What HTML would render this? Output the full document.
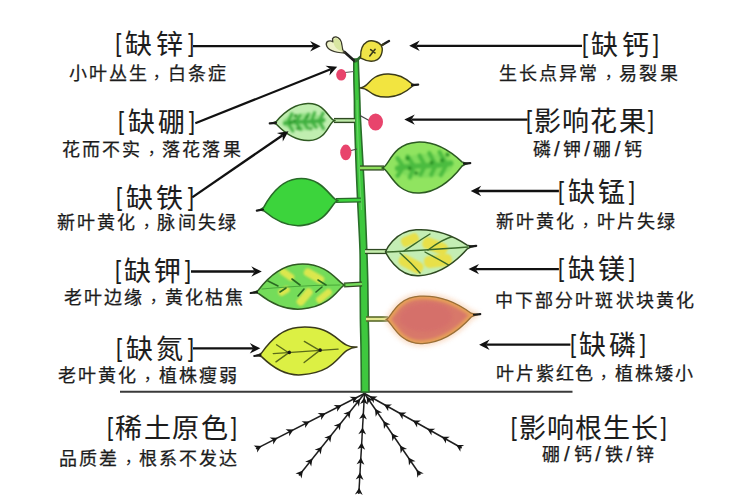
<!DOCTYPE html>
<html lang="zh-CN"><head><meta charset="utf-8"><style>
html,body{margin:0;padding:0;background:#fff;width:750px;height:500px;overflow:hidden}
.t{position:absolute;white-space:nowrap;color:#1c1c1c;font-family:"Liberation Sans",sans-serif;line-height:1.2;-webkit-text-stroke:0.25px #1c1c1c}
.cm{display:inline-block;transform:translate(4px,-1.5px) scale(0.85)}
.sl{font-size:1.15em;line-height:0}
.br{display:inline-block;transform:translateY(-1.8px) scale(0.8,0.96)}
.ti{-webkit-text-stroke:0.1px #1c1c1c}
svg{position:absolute;left:0;top:0}
</style></head><body>
<svg width="750" height="500" viewBox="0 0 750 500">
<line x1="120" y1="391.8" x2="572.5" y2="391.8" stroke="#3a3a3a" stroke-width="2"/><line x1="364.5" y1="393.5" x2="256" y2="448.8" stroke="#1e1e1e" stroke-width="1.5"/><path d="M357.6,397.0 L349.5,396.7 L353.2,399.3 L353.1,403.7 Z" fill="#151515"/><path d="M341.6,405.2 L333.6,404.9 L337.2,407.4 L337.1,411.8 Z" fill="#151515"/><path d="M325.6,413.3 L317.6,413.0 L321.2,415.6 L321.1,420.0 Z" fill="#151515"/><path d="M309.6,421.5 L301.6,421.2 L305.2,423.7 L305.1,428.1 Z" fill="#151515"/><path d="M293.6,429.6 L285.6,429.3 L289.2,431.9 L289.1,436.3 Z" fill="#151515"/><path d="M277.6,437.8 L269.6,437.5 L273.2,440.0 L273.1,444.4 Z" fill="#151515"/><path d="M261.6,445.9 L253.6,445.6 L257.2,448.2 L257.1,452.6 Z" fill="#151515"/><line x1="364.5" y1="393.5" x2="299" y2="475.5" stroke="#1e1e1e" stroke-width="1.5"/><path d="M360.3,398.8 L352.8,401.8 L357.2,402.6 L358.9,406.7 Z" fill="#151515"/><path d="M350.7,410.8 L343.3,413.8 L347.6,414.6 L349.4,418.7 Z" fill="#151515"/><path d="M341.1,422.7 L333.7,425.8 L338.1,426.6 L339.8,430.6 Z" fill="#151515"/><path d="M331.6,434.7 L324.2,437.7 L328.5,438.5 L330.3,442.6 Z" fill="#151515"/><path d="M322.0,446.7 L314.6,449.7 L319.0,450.5 L320.7,454.6 Z" fill="#151515"/><path d="M312.5,458.6 L305.1,461.7 L309.4,462.4 L311.2,466.5 Z" fill="#151515"/><path d="M302.9,470.6 L295.5,473.6 L299.9,474.4 L301.6,478.5 Z" fill="#151515"/><line x1="364.5" y1="393.5" x2="358.8" y2="494" stroke="#1e1e1e" stroke-width="1.5"/><path d="M364.3,397.3 L360.0,404.1 L364.0,402.2 L367.8,404.5 Z" fill="#151515"/><path d="M363.4,412.4 L359.1,419.1 L363.2,417.3 L366.9,419.6 Z" fill="#151515"/><path d="M362.6,427.4 L358.3,434.2 L362.3,432.3 L366.1,434.6 Z" fill="#151515"/><path d="M361.7,442.5 L357.4,449.3 L361.4,447.4 L365.2,449.7 Z" fill="#151515"/><path d="M360.9,457.6 L356.6,464.3 L360.6,462.5 L364.4,464.8 Z" fill="#151515"/><path d="M360.0,472.6 L355.7,479.4 L359.7,477.5 L363.5,479.9 Z" fill="#151515"/><path d="M359.2,487.7 L354.9,494.5 L358.9,492.6 L362.7,494.9 Z" fill="#151515"/><line x1="364.5" y1="393.5" x2="420.2" y2="475" stroke="#1e1e1e" stroke-width="1.5"/><path d="M366.6,396.6 L367.4,404.6 L369.4,400.7 L373.8,400.2 Z" fill="#151515"/><path d="M375.0,408.8 L375.7,416.8 L377.7,412.9 L382.1,412.4 Z" fill="#151515"/><path d="M383.3,421.0 L384.0,429.0 L386.1,425.1 L390.5,424.6 Z" fill="#151515"/><path d="M391.6,433.2 L392.4,441.2 L394.4,437.3 L398.8,436.8 Z" fill="#151515"/><path d="M400.0,445.4 L400.7,453.4 L402.7,449.5 L407.1,449.0 Z" fill="#151515"/><path d="M408.3,457.6 L409.0,465.6 L411.1,461.7 L415.5,461.2 Z" fill="#151515"/><path d="M416.6,469.8 L417.4,477.8 L419.4,473.8 L423.8,473.4 Z" fill="#151515"/><line x1="364.5" y1="393.5" x2="461.7" y2="448" stroke="#1e1e1e" stroke-width="1.5"/><path d="M369.6,396.3 L373.8,403.2 L373.8,398.7 L377.6,396.4 Z" fill="#151515"/><path d="M384.0,404.4 L388.2,411.3 L388.3,406.8 L392.0,404.5 Z" fill="#151515"/><path d="M398.4,412.5 L402.6,419.4 L402.7,414.9 L406.5,412.6 Z" fill="#151515"/><path d="M412.9,420.6 L417.1,427.5 L417.2,423.0 L420.9,420.6 Z" fill="#151515"/><path d="M427.3,428.7 L431.5,435.6 L431.6,431.1 L435.3,428.7 Z" fill="#151515"/><path d="M441.8,436.8 L446.0,443.6 L446.0,439.2 L449.8,436.8 Z" fill="#151515"/><path d="M456.2,444.9 L460.4,451.7 L460.5,447.3 L464.2,444.9 Z" fill="#151515"/><path d="M353.8,59.0 C353.8,62.5 353.8,73.2 353.9,80.0 C354.0,86.8 354.3,93.3 354.4,100.0 C354.5,106.7 354.3,108.7 354.6,120.0 C354.9,131.3 355.7,154.7 356.2,168.0 C356.7,181.3 357.0,186.3 357.6,200.0 C358.2,213.7 359.6,236.2 360.0,250.0 C360.4,263.8 360.1,271.7 360.2,283.0 C360.3,294.3 360.3,307.3 360.4,318.0 C360.5,328.7 360.8,334.7 361.0,347.0 C361.2,359.3 361.3,384.5 361.4,392.0 L369.0,392.0 C369.0,384.5 368.9,359.3 368.8,347.0 C368.7,334.7 368.4,328.7 368.2,318.0 C368.0,307.3 368.0,294.3 367.8,283.0 C367.6,271.7 367.3,263.8 366.8,250.0 C366.3,236.2 365.4,213.7 364.8,200.0 C364.2,186.3 363.9,181.3 363.2,168.0 C362.5,154.7 361.1,131.3 360.5,120.0 C359.9,108.7 360.1,106.7 359.8,100.0 C359.6,93.3 359.3,86.8 359.0,80.0 C358.7,73.2 358.3,62.5 358.2,59.0 Z" fill="#3ec83e" stroke="#2a6e2a" stroke-width="1.6" stroke-linejoin="round"/><path d="M357,100 C357.5,140 359,170 361.5,210" fill="none" stroke="#80e07a" stroke-width="1.2" opacity="0.6"/><path d="M344.5,52 L354.5,61" stroke="#1e1e1e" stroke-width="2.8" stroke-linecap="round"/><path d="M356,61 L361.5,56" stroke="#2c6a2c" stroke-width="2.8" stroke-linecap="round"/><path d="M383,44.5 L389,41" stroke="#1e1e1e" stroke-width="2.4" stroke-linecap="round"/><path d="M345,72.5 L354,71.5" stroke="#555" stroke-width="1.1"/><path d="M360,115.5 L370,121" stroke="#444" stroke-width="1.2"/><path d="M349,151 L357,149" stroke="#444" stroke-width="1.2"/><path d="M355,120.5 L334,120.5" stroke="#2f4a22" stroke-width="5.2" stroke-linecap="butt"/><path d="M355,120.5 L334,120.5" stroke="#bdeaa8" stroke-width="2.4" stroke-linecap="butt"/><path d="M360,168 L384,168" stroke="#2f4a22" stroke-width="5.2" stroke-linecap="butt"/><path d="M360,168 L384,168" stroke="#8ede5c" stroke-width="2.6" stroke-linecap="butt"/><path d="M361,200 L336,200.5" stroke="#2a6a2a" stroke-width="5.2" stroke-linecap="butt"/><path d="M361,200 L336,200.5" stroke="#3dd43d" stroke-width="2.6" stroke-linecap="butt"/><path d="M365,251.5 L388,251.5" stroke="#2f4a22" stroke-width="5.2" stroke-linecap="butt"/><path d="M365,251.5 L388,251.5" stroke="#c6eeae" stroke-width="2.6" stroke-linecap="butt"/><path d="M362,284 L344,285" stroke="#2f4a22" stroke-width="5.2" stroke-linecap="butt"/><path d="M362,284 L344,285" stroke="#74dc5a" stroke-width="2.6" stroke-linecap="butt"/><path d="M366,319 L388,319" stroke="#5a6a2a" stroke-width="5.6" stroke-linecap="butt"/><path d="M366,319 L388,319" stroke="#e4e890" stroke-width="2.4" stroke-linecap="butt"/><path d="M345,53 C340.5,50.5 343.5,44 340,39.5 C338,36.5 334,35.8 332.5,38.8 L333.2,41.8 C330,40 326,41 326.3,44.5 C327,49 333,52.5 345,53 Z" fill="#eef2c8" stroke="#3a3a2a" stroke-width="1.4" stroke-linejoin="round"/><path d="M344,52 C340,50 342.5,44 339.5,40 C337.5,37.5 334.5,37.5 333.5,40 C333,45 336,50 344,52 Z" fill="#d8e6a0"/><clipPath id="l1"><path d="M0,0 C0.8,0 4.1,-10.5 13.7,-10.5 C19.8,-10.5 24.3,-3.1 23.9,-0.8 Q26.7,-0.1 27.4,0 Q26.7,0.1 23.9,0.8 C24.3,3.0 19.8,10.0 13.7,10.0 C4.1,10.0 0.8,0 0,0 Z" transform="translate(360.5,58) rotate(-30.78)"/></clipPath><g transform="translate(360.5,58) rotate(-30.78)"><path d="M0,0 C0.8,0 4.1,-10.5 13.7,-10.5 C19.8,-10.5 24.3,-3.1 23.9,-0.8 Q26.7,-0.1 27.4,0 Q26.7,0.1 23.9,0.8 C24.3,3.0 19.8,10.0 13.7,10.0 C4.1,10.0 0.8,0 0,0 Z" fill="#f0e448" stroke="none"/></g><g clip-path="url(#l1)"><g transform="translate(360.5,58) rotate(-30.78)"><path d="M9,3 L17,0 M13,-2 L15,3" stroke="#3a3a1a" stroke-width="1.6" stroke-linecap="round"/></g></g><g transform="translate(360.5,58) rotate(-30.78)"><path d="M0,0 C0.8,0 4.1,-10.5 13.7,-10.5 C19.8,-10.5 24.3,-3.1 23.9,-0.8 Q26.7,-0.1 27.4,0 Q26.7,0.1 23.9,0.8 C24.3,3.0 19.8,10.0 13.7,10.0 C4.1,10.0 0.8,0 0,0 Z" fill="none" stroke="#3a3a1a" stroke-width="1.4" stroke-linejoin="round"/></g><g transform="translate(360,88) rotate(-3.07)"><path d="M0,0 C10.1,0 8.4,-12.5 28.0,-12.5 C40.7,-12.5 49.9,-3.8 52.7,-1.0 Q54.7,-0.1 56.1,0 Q54.7,0.1 52.7,0.8 C49.9,3.1 40.7,10.5 28.0,10.5 C8.4,10.5 10.1,0 0,0 Z" fill="#f2e440" stroke="none"/></g><g transform="translate(360,88) rotate(-3.07)"><path d="M0,0 C10.1,0 8.4,-12.5 28.0,-12.5 C40.7,-12.5 49.9,-3.8 52.7,-1.0 Q54.7,-0.1 56.1,0 Q54.7,0.1 52.7,0.8 C49.9,3.1 40.7,10.5 28.0,10.5 C8.4,10.5 10.1,0 0,0 Z" fill="none" stroke="#3a3a1a" stroke-width="1.4" stroke-linejoin="round"/><path d="M52.0,0 L58.3,-0.3" stroke="#1a1a1a" stroke-width="2.2" stroke-linecap="round"/></g><defs><filter id="bl1" x="-10%" y="-30%" width="120%" height="160%"><feGaussianBlur stdDeviation="1.1"/></filter><filter id="bl2" x="-20%" y="-20%" width="140%" height="140%"><feGaussianBlur stdDeviation="0.9"/></filter></defs><clipPath id="lB"><path d="M0,0 C6.3,0 7.9,-19.0 26.5,-19.0 C42.9,-19.0 55.0,-5.7 58.7,-1.5 Q61.2,-0.2 63.0,0 Q61.2,0.2 58.7,1.4 C55.0,5.4 42.9,18.0 26.5,18.0 C7.9,18.0 6.3,0 0,0 Z" transform="translate(335,120.5) rotate(177.73)"/></clipPath><g transform="translate(335,120.5) rotate(177.73)"><path d="M0,0 C6.3,0 7.9,-19.0 26.5,-19.0 C42.9,-19.0 55.0,-5.7 58.7,-1.5 Q61.2,-0.2 63.0,0 Q61.2,0.2 58.7,1.4 C55.0,5.4 42.9,18.0 26.5,18.0 C7.9,18.0 6.3,0 0,0 Z" fill="#c0eeb0" stroke="none"/></g><g clip-path="url(#lB)"><g transform="translate(335,120.5) rotate(177.73)"><g filter="url(#bl1)"><ellipse cx="31.5" cy="0" rx="20.8" ry="8.5" fill="#86dc78" opacity="0.75"/><path d="M11.3,0.9 C25.2,-1.7 37.8,1.7 50.4,-0.9" stroke="#40b040" stroke-width="3.7" fill="none" stroke-linecap="round"/><path d="M15.8,0 L11.8,-7.8" stroke="#40b040" stroke-width="2.9" stroke-linecap="round"/><path d="M15.8,0 L11.6,8.0" stroke="#40b040" stroke-width="2.9" stroke-linecap="round"/><path d="M23.6,0 L19.0,-6.2" stroke="#40b040" stroke-width="2.9" stroke-linecap="round"/><path d="M23.6,0 L20.1,8.8" stroke="#40b040" stroke-width="2.9" stroke-linecap="round"/><path d="M31.5,0 L27.5,-6.7" stroke="#40b040" stroke-width="2.9" stroke-linecap="round"/><path d="M31.5,0 L26.2,7.5" stroke="#40b040" stroke-width="2.9" stroke-linecap="round"/><path d="M39.4,0 L34.4,-7.6" stroke="#40b040" stroke-width="2.9" stroke-linecap="round"/><path d="M39.4,0 L34.7,6.5" stroke="#40b040" stroke-width="2.9" stroke-linecap="round"/><path d="M47.3,0 L42.6,-8.9" stroke="#40b040" stroke-width="2.9" stroke-linecap="round"/><path d="M47.3,0 L42.8,8.5" stroke="#40b040" stroke-width="2.9" stroke-linecap="round"/><circle cx="37.6" cy="-6.7" r="1.4" fill="#1e8a1e"/><circle cx="40.6" cy="1.4" r="1.4" fill="#1e8a1e"/><circle cx="24.5" cy="-7.2" r="1.4" fill="#1e8a1e"/><circle cx="44.4" cy="-0.4" r="1.4" fill="#1e8a1e"/><circle cx="39.3" cy="5.8" r="1.4" fill="#1e8a1e"/><circle cx="39.1" cy="6.4" r="1.4" fill="#1e8a1e"/><circle cx="27.8" cy="4.6" r="1.4" fill="#1e8a1e"/></g></g></g><g transform="translate(335,120.5) rotate(177.73)"><path d="M0,0 C6.3,0 7.9,-19.0 26.5,-19.0 C42.9,-19.0 55.0,-5.7 58.7,-1.5 Q61.2,-0.2 63.0,0 Q61.2,0.2 58.7,1.4 C55.0,5.4 42.9,18.0 26.5,18.0 C7.9,18.0 6.3,0 0,0 Z" fill="none" stroke="#2f5a22" stroke-width="1.5" stroke-linejoin="round"/><path d="M59.0,0 L65.3,-0.3" stroke="#1a1a1a" stroke-width="2.2" stroke-linecap="round"/></g><clipPath id="lMn"><path d="M0,0 C6.9,0 10.9,-24.0 36.2,-24.0 C58.6,-24.0 75.1,-7.2 80.1,-1.9 Q83.6,-0.2 86.1,0 Q83.6,0.3 80.1,2.2 C75.1,8.1 58.6,27.0 36.2,27.0 C10.9,27.0 6.9,0 0,0 Z" transform="translate(382,168) rotate(-3.00)"/></clipPath><g transform="translate(382,168) rotate(-3.00)"><path d="M0,0 C6.9,0 10.9,-24.0 36.2,-24.0 C58.6,-24.0 75.1,-7.2 80.1,-1.9 Q83.6,-0.2 86.1,0 Q83.6,0.3 80.1,2.2 C75.1,8.1 58.6,27.0 36.2,27.0 C10.9,27.0 6.9,0 0,0 Z" fill="#90e460" stroke="none"/></g><g clip-path="url(#lMn)"><g transform="translate(382,168) rotate(-3.00)"><g filter="url(#bl1)"><ellipse cx="43.1" cy="0" rx="28.4" ry="12.0" fill="#78d858" opacity="0.75"/><path d="M15.5,1.2 C34.4,-2.4 51.7,2.4 68.9,-1.2" stroke="#4cbc40" stroke-width="5.3" fill="none" stroke-linecap="round"/><path d="M21.5,0 L15.9,-9.1" stroke="#4cbc40" stroke-width="4.1" stroke-linecap="round"/><path d="M21.5,0 L15.1,8.7" stroke="#4cbc40" stroke-width="4.1" stroke-linecap="round"/><path d="M32.3,0 L26.2,-10.2" stroke="#4cbc40" stroke-width="4.1" stroke-linecap="round"/><path d="M32.3,0 L27.3,10.8" stroke="#4cbc40" stroke-width="4.1" stroke-linecap="round"/><path d="M43.1,0 L38.1,-10.5" stroke="#4cbc40" stroke-width="4.1" stroke-linecap="round"/><path d="M43.1,0 L38.1,8.8" stroke="#4cbc40" stroke-width="4.1" stroke-linecap="round"/><path d="M53.8,0 L48.0,-12.4" stroke="#4cbc40" stroke-width="4.1" stroke-linecap="round"/><path d="M53.8,0 L48.7,9.5" stroke="#4cbc40" stroke-width="4.1" stroke-linecap="round"/><path d="M64.6,0 L58.3,-12.9" stroke="#4cbc40" stroke-width="4.1" stroke-linecap="round"/><path d="M64.6,0 L58.4,10.3" stroke="#4cbc40" stroke-width="4.1" stroke-linecap="round"/><circle cx="66.0" cy="-9.8" r="1.9" fill="#1e8a1e"/><circle cx="60.3" cy="-4.5" r="1.9" fill="#1e8a1e"/><circle cx="25.9" cy="-8.3" r="1.9" fill="#1e8a1e"/><circle cx="33.8" cy="6.8" r="1.9" fill="#1e8a1e"/><circle cx="27.7" cy="1.8" r="1.9" fill="#1e8a1e"/><circle cx="49.8" cy="-2.8" r="1.9" fill="#1e8a1e"/></g></g></g><g transform="translate(382,168) rotate(-3.00)"><path d="M0,0 C6.9,0 10.9,-24.0 36.2,-24.0 C58.6,-24.0 75.1,-7.2 80.1,-1.9 Q83.6,-0.2 86.1,0 Q83.6,0.3 80.1,2.2 C75.1,8.1 58.6,27.0 36.2,27.0 C10.9,27.0 6.9,0 0,0 Z" fill="none" stroke="#2c5a22" stroke-width="1.5" stroke-linejoin="round"/><path d="M82.1,0 L88.4,-0.3" stroke="#1a1a1a" stroke-width="2.2" stroke-linecap="round"/></g><g transform="translate(338,200.5) rotate(173.14)"><path d="M0,0 C6.4,0 11.5,-20.5 38.2,-20.5 C56.8,-20.5 70.5,-6.1 74.6,-1.6 Q77.5,-0.2 79.6,0 Q77.5,0.3 74.6,2.1 C70.5,7.9 56.8,26.5 38.2,26.5 C11.5,26.5 6.4,0 0,0 Z" fill="#3cd43c" stroke="none"/></g><g transform="translate(338,200.5) rotate(173.14)"><path d="M0,0 C6.4,0 11.5,-20.5 38.2,-20.5 C56.8,-20.5 70.5,-6.1 74.6,-1.6 Q77.5,-0.2 79.6,0 Q77.5,0.3 74.6,2.1 C70.5,7.9 56.8,26.5 38.2,26.5 C11.5,26.5 6.4,0 0,0 Z" fill="none" stroke="#286a28" stroke-width="1.6" stroke-linejoin="round"/><path d="M75.5,0 L81.8,-0.3" stroke="#1a1a1a" stroke-width="2.2" stroke-linecap="round"/></g><clipPath id="lMg"><path d="M0,0 C0.0,0 9.6,-20.0 31.9,-20.0 C57.5,-20.0 76.2,-6.0 81.9,-1.6 Q85.8,-0.2 88.7,0 Q85.8,0.3 81.9,2.1 C76.2,7.8 57.5,26.0 31.9,26.0 C9.6,26.0 0.0,0 0,0 Z" transform="translate(385.5,251.8) rotate(-3.56)"/></clipPath><g transform="translate(385.5,251.8) rotate(-3.56)"><path d="M0,0 C0.0,0 9.6,-20.0 31.9,-20.0 C57.5,-20.0 76.2,-6.0 81.9,-1.6 Q85.8,-0.2 88.7,0 Q85.8,0.3 81.9,2.1 C76.2,7.8 57.5,26.0 31.9,26.0 C9.6,26.0 0.0,0 0,0 Z" fill="#c4eeb4" stroke="none"/></g><g clip-path="url(#lMg)"><g filter="url(#bl2)" fill="#e8e048"><rect x="-9" y="-5" width="18" height="10" rx="4" transform="translate(410,240) rotate(-22)"/><rect x="-13" y="-6" width="26" height="12" rx="5" transform="translate(435,246) rotate(22)"/><rect x="-13" y="-6" width="26" height="12" rx="5" transform="translate(411,264) rotate(28)"/><rect x="-14" y="-6" width="28" height="12" rx="5" transform="translate(438,261) rotate(-6)"/></g><g stroke="#3a6a2a" stroke-width="1.4" fill="none" stroke-linecap="round"><path d="M386,252 C410,251 440,249 468,247"/><path d="M404,251 C412,246 420,240 430,234 M428,250 C436,244 446,238 454,236 M400,253 C408,260 414,266 420,273 M425,252 C432,256 444,262 450,266"/></g></g><g transform="translate(385.5,251.8) rotate(-3.56)"><path d="M0,0 C0.0,0 9.6,-20.0 31.9,-20.0 C57.5,-20.0 76.2,-6.0 81.9,-1.6 Q85.8,-0.2 88.7,0 Q85.8,0.3 81.9,2.1 C76.2,7.8 57.5,26.0 31.9,26.0 C9.6,26.0 0.0,0 0,0 Z" fill="none" stroke="#2f4a22" stroke-width="1.5" stroke-linejoin="round"/><path d="M84.6,0 L90.9,-0.3" stroke="#1a1a1a" stroke-width="2.2" stroke-linecap="round"/></g><clipPath id="lK"><path d="M0,0 C5.5,0 13.6,-20.5 45.2,-20.5 C66.4,-20.5 81.9,-6.1 86.7,-1.6 Q90.0,-0.2 92.3,0 Q90.0,0.2 86.7,2.0 C81.9,7.3 66.4,24.5 45.2,24.5 C13.6,24.5 5.5,0 0,0 Z" transform="translate(345,285) rotate(175.34)"/></clipPath><g transform="translate(345,285) rotate(175.34)"><path d="M0,0 C5.5,0 13.6,-20.5 45.2,-20.5 C66.4,-20.5 81.9,-6.1 86.7,-1.6 Q90.0,-0.2 92.3,0 Q90.0,0.2 86.7,2.0 C81.9,7.3 66.4,24.5 45.2,24.5 C13.6,24.5 5.5,0 0,0 Z" fill="#74dc5a" stroke="none"/></g><g clip-path="url(#lK)"><g filter="url(#bl2)" fill="#e4e84e" opacity="0.92"><rect x="-8" y="-3.5" width="16" height="7" rx="3" transform="translate(287,274.5) rotate(35)"/><rect x="-11" y="-4" width="22" height="8" rx="3.5" transform="translate(314,276) rotate(30)"/><rect x="-6" y="-3.5" width="12" height="7" rx="3" transform="translate(284,291) rotate(-30)"/><rect x="-10" y="-4" width="20" height="8" rx="3.5" transform="translate(304.7,297) rotate(-50)"/><rect x="-9" y="-3.5" width="18" height="7" rx="3" transform="translate(324,296) rotate(-40)"/></g><g stroke="#2a6a22" stroke-width="1.6" fill="none" stroke-linecap="round"><path d="M262,289 C285,287 315,285 340,285" stroke="#4aa83a" stroke-width="1.2"/><path d="M268,281 L278,286 M292,279 L300,285 M318,280 L326,285 M280,292 L286,288 M298,296 L304,289 M316,292 L322,287"/></g></g><g transform="translate(345,285) rotate(175.34)"><path d="M0,0 C5.5,0 13.6,-20.5 45.2,-20.5 C66.4,-20.5 81.9,-6.1 86.7,-1.6 Q90.0,-0.2 92.3,0 Q90.0,0.2 86.7,2.0 C81.9,7.3 66.4,24.5 45.2,24.5 C13.6,24.5 5.5,0 0,0 Z" fill="none" stroke="#2f5a22" stroke-width="1.5" stroke-linejoin="round"/><path d="M88.3,0 L94.6,-0.3" stroke="#1a1a1a" stroke-width="2.2" stroke-linecap="round"/></g><defs><filter id="glow" x="-30%" y="-50%" width="160%" height="200%"><feGaussianBlur stdDeviation="2.6"/></filter><filter id="bl3" x="-20%" y="-30%" width="140%" height="160%"><feGaussianBlur stdDeviation="1.6"/></filter></defs><clipPath id="lP"><path d="M0,0 C4.6,0 10.5,-21.5 35.0,-21.5 C60.7,-21.5 79.6,-6.5 85.3,-1.7 Q89.3,-0.2 92.1,0 Q89.3,0.3 85.3,2.1 C79.6,7.8 60.7,26.0 35.0,26.0 C10.5,26.0 4.6,0 0,0 Z" transform="translate(386,319.5) rotate(-3.11)"/></clipPath><g transform="translate(386,319.5) rotate(-3.11)"><path d="M0,0 C4.6,0 10.5,-21.5 35.0,-21.5 C60.7,-21.5 79.5,-6.5 85.3,-1.7 Q89.3,-0.2 92.1,0 Q89.3,0.3 85.3,2.1 C79.5,7.8 60.7,26.0 35.0,26.0 C10.5,26.0 4.6,0 0,0 Z" fill="none" stroke="#f8cfb0" stroke-width="5" filter="url(#glow)" opacity="0.8"/><path d="M0,0 C4.6,0 10.5,-21.5 35.0,-21.5 C60.7,-21.5 79.6,-6.5 85.3,-1.7 Q89.3,-0.2 92.1,0 Q89.3,0.3 85.3,2.1 C79.6,7.8 60.7,26.0 35.0,26.0 C10.5,26.0 4.6,0 0,0 Z" fill="#d8786a" stroke="none"/></g><g clip-path="url(#lP)"><g transform="translate(386,319.5) rotate(-3.11)"><path d="M0,0 C4.6,0 10.5,-21.5 35.0,-21.5 C60.7,-21.5 79.5,-6.5 85.3,-1.7 Q89.3,-0.2 92.1,0 Q89.3,0.3 85.3,2.1 C79.5,7.8 60.7,26.0 35.0,26.0 C10.5,26.0 4.6,0 0,0 Z" fill="none" stroke="#e6a058" stroke-width="6.5" filter="url(#bl3)"/><ellipse cx="40" cy="0" rx="26" ry="14" fill="#d46c6c" filter="url(#bl3)" opacity="0.6"/></g></g><g transform="translate(386,319.5) rotate(-3.11)"><path d="M0,0 C4.6,0 10.5,-21.5 35.0,-21.5 C60.7,-21.5 79.6,-6.5 85.3,-1.7 Q89.3,-0.2 92.1,0 Q89.3,0.3 85.3,2.1 C79.6,7.8 60.7,26.0 35.0,26.0 C10.5,26.0 4.6,0 0,0 Z" fill="none" stroke="#9a7038" stroke-width="1.3" stroke-linejoin="round"/><path d="M88.1,0 L94.4,-0.3" stroke="#1a1a1a" stroke-width="2.2" stroke-linecap="round"/></g><clipPath id="lN"><path d="M0,0 C20.2,0 17.2,-23.0 57.5,-23.0 C77.0,-23.0 91.3,-6.9 95.7,-1.8 Q98.7,-0.2 100.9,0 Q98.7,0.2 95.7,2.0 C91.3,7.3 77.0,24.5 57.5,24.5 C17.2,24.5 20.2,0 0,0 Z" transform="translate(357,347) rotate(175.17)"/></clipPath><g transform="translate(357,347) rotate(175.17)"><path d="M0,0 C20.2,0 17.2,-23.0 57.5,-23.0 C77.0,-23.0 91.3,-6.9 95.7,-1.8 Q98.7,-0.2 100.9,0 Q98.7,0.2 95.7,2.0 C91.3,7.3 77.0,24.5 57.5,24.5 C17.2,24.5 20.2,0 0,0 Z" fill="#dcf044" stroke="none"/></g><g clip-path="url(#lN)"><g transform="translate(357,347) rotate(175.17)"><g stroke="#5a6a1a" stroke-width="1.4" fill="none" stroke-linecap="round"><path d="M19,-0.5 L84,0.5"/><path d="M37,0 L54,-11 M38,0 L52,10 M68,0.3 L82,-8 M69,0.3 L80,9"/></g><circle cx="37" cy="0" r="1.8" fill="#1a1a1a"/><circle cx="68" cy="0.3" r="1.8" fill="#1a1a1a"/></g></g><g transform="translate(357,347) rotate(175.17)"><path d="M0,0 C20.2,0 17.2,-23.0 57.5,-23.0 C77.0,-23.0 91.3,-6.9 95.7,-1.8 Q98.7,-0.2 100.9,0 Q98.7,0.2 95.7,2.0 C91.3,7.3 77.0,24.5 57.5,24.5 C17.2,24.5 20.2,0 0,0 Z" fill="none" stroke="#3a3a1a" stroke-width="1.5" stroke-linejoin="round"/><path d="M96.8,0 L103.1,-0.3" stroke="#1a1a1a" stroke-width="2.2" stroke-linecap="round"/></g><ellipse cx="341.2" cy="74.8" rx="5" ry="5.8" fill="#e8446c"/><ellipse cx="375.6" cy="122" rx="7.4" ry="8.6" fill="#e8446c"/><ellipse cx="345.8" cy="152.4" rx="5.6" ry="7.8" fill="#e8446c"/><line x1="193" y1="46.2" x2="313.5" y2="46.2" stroke="#111" stroke-width="2.3"/><path d="M320.6,46.2 L310.1,51.4 L313.5,46.2 L310.1,41.0 Z" fill="#111"/><line x1="582" y1="45.8" x2="416.3" y2="45.8" stroke="#111" stroke-width="2.3"/><path d="M409.2,45.8 L419.7,40.6 L416.3,45.8 L419.7,51.0 Z" fill="#111"/><line x1="195.3" y1="123.3" x2="330.6" y2="69.3" stroke="#111" stroke-width="2.3"/><path d="M337.2,66.7 L329.4,75.4 L330.6,69.3 L325.5,65.8 Z" fill="#111"/><line x1="527.5" y1="119.6" x2="411.4" y2="119.6" stroke="#111" stroke-width="2.3"/><path d="M404.3,119.6 L414.8,114.4 L411.4,119.6 L414.8,124.8 Z" fill="#111"/><line x1="192.2" y1="197.4" x2="282.6" y2="135.2" stroke="#111" stroke-width="2.3"/><path d="M288.5,131.2 L282.8,141.4 L282.6,135.2 L276.9,132.9 Z" fill="#111"/><line x1="558.9" y1="191" x2="477.8" y2="191.0" stroke="#111" stroke-width="2.3"/><path d="M470.7,191 L481.2,185.8 L477.8,191.0 L481.2,196.2 Z" fill="#111"/><line x1="191" y1="271.5" x2="254.7" y2="271.5" stroke="#111" stroke-width="2.3"/><path d="M261.8,271.5 L251.3,276.7 L254.7,271.5 L251.3,266.3 Z" fill="#111"/><line x1="558.9" y1="269.1" x2="475.6" y2="269.1" stroke="#111" stroke-width="2.3"/><path d="M468.5,269.1 L479.0,263.9 L475.6,269.1 L479.0,274.3 Z" fill="#111"/><line x1="193" y1="348.3" x2="253.2" y2="348.3" stroke="#111" stroke-width="2.3"/><path d="M260.3,348.3 L249.8,353.5 L253.2,348.3 L249.8,343.1 Z" fill="#111"/><line x1="570.4" y1="344.7" x2="486.2" y2="344.7" stroke="#111" stroke-width="2.3"/><path d="M479.1,344.7 L489.6,339.5 L486.2,344.7 L489.6,349.9 Z" fill="#111"/>
</svg>
<div class="t ti" style="left:114.1px;top:29.1px;font-size:27px;letter-spacing:3.77px"><span class="br">[</span>缺锌<span class="br">]</span></div><div class="t" style="left:69.0px;top:64.0px;font-size:18px;letter-spacing:1.86px">小叶丛生<span class="cm">，</span>白条症</div><div class="t ti" style="left:117.0px;top:106.8px;font-size:27px;letter-spacing:3.26px"><span class="br">[</span>缺硼<span class="br">]</span></div><div class="t" style="left:61.6px;top:140.4px;font-size:18px;letter-spacing:2.12px">花而不实<span class="cm">，</span>落花落果</div><div class="t ti" style="left:115.2px;top:183.4px;font-size:27px;letter-spacing:3.35px"><span class="br">[</span>缺铁<span class="br">]</span></div><div class="t" style="left:56.5px;top:213.4px;font-size:18px;letter-spacing:2.18px">新叶黄化<span class="cm">，</span>脉间失绿</div><div class="t ti" style="left:113.7px;top:255.6px;font-size:27px;letter-spacing:3.08px"><span class="br">[</span>缺钾<span class="br">]</span></div><div class="t" style="left:63.9px;top:287.8px;font-size:18px;letter-spacing:2.13px">老叶边缘<span class="cm">，</span>黄化枯焦</div><div class="t ti" style="left:115.2px;top:333.8px;font-size:27px;letter-spacing:3.35px"><span class="br">[</span>缺氮<span class="br">]</span></div><div class="t" style="left:58.1px;top:366.0px;font-size:18px;letter-spacing:2.09px">老叶黄化<span class="cm">，</span>植株瘦弱</div><div class="t ti" style="left:105.9px;top:413.4px;font-size:27px;letter-spacing:1.65px"><span class="br">[</span>稀土原色<span class="br">]</span></div><div class="t" style="left:58.7px;top:448.6px;font-size:18px;letter-spacing:2.06px">品质差<span class="cm">，</span>根系不发达</div><div class="t ti" style="left:580.5px;top:29.7px;font-size:27px;letter-spacing:3.35px"><span class="br">[</span>缺钙<span class="br">]</span></div><div class="t" style="left:498.6px;top:63.5px;font-size:18px;letter-spacing:2.12px">生长点异常<span class="cm">，</span>易裂果</div><div class="t ti" style="left:525.0px;top:105.5px;font-size:27px;letter-spacing:1.28px"><span class="br">[</span>影响花果<span class="br">]</span></div><div class="t" style="left:532.8px;top:139.5px;font-size:18px;letter-spacing:3.26px">磷<span class="sl">/</span>钾<span class="sl">/</span>硼<span class="sl">/</span>钙</div><div class="t ti" style="left:557.3px;top:177.2px;font-size:27px;letter-spacing:3.05px"><span class="br">[</span>缺锰<span class="br">]</span></div><div class="t" style="left:496.0px;top:211.5px;font-size:18px;letter-spacing:2.12px">新叶黄化<span class="cm">，</span>叶片失绿</div><div class="t ti" style="left:557.3px;top:254.4px;font-size:27px;letter-spacing:3.05px"><span class="br">[</span>缺镁<span class="br">]</span></div><div class="t" style="left:495.0px;top:290.5px;font-size:18px;letter-spacing:2.10px">中下部分叶斑状块黄化</div><div class="t ti" style="left:568.8px;top:330.1px;font-size:27px;letter-spacing:3.05px"><span class="br">[</span>缺磷<span class="br">]</span></div><div class="t" style="left:496.0px;top:363.5px;font-size:18px;letter-spacing:1.84px">叶片紫红色<span class="cm">，</span>植株矮小</div><div class="t ti" style="left:510.0px;top:413.4px;font-size:27px;letter-spacing:1.17px"><span class="br">[</span>影响根生长<span class="br">]</span></div><div class="t" style="left:542.4px;top:445.4px;font-size:18px;letter-spacing:3.68px">硼<span class="sl">/</span>钙<span class="sl">/</span>铁<span class="sl">/</span>锌</div>
</body></html>
